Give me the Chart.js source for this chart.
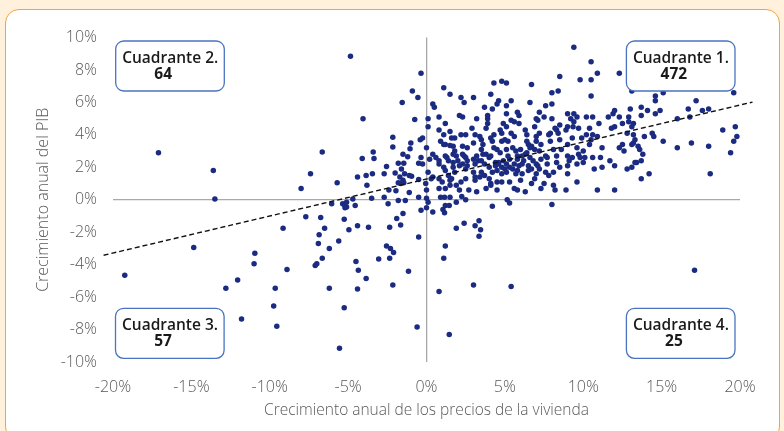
<!DOCTYPE html>
<html>
<head>
<meta charset="utf-8">
<script src="https://cdn.jsdelivr.net/npm/chart.js@4/dist/chart.umd.min.js"></script>
<style>
  html, body { margin: 0; padding: 0; background: #FFF1DB; }
  #frame { position: absolute; left: 5px; top: 9px; width: 773px; height: 430px;
           border: 1px solid #F4A340; border-radius: 14px; background: #FFFFFF; }
  #c { position: absolute; left: 0; top: 0; }
</style>
</head>
<body>
<div id="frame"></div>
<canvas id="c" width="784" height="431"></canvas>
<script>
// x = crecimiento anual de los precios de la vivienda (%), y = crecimiento anual del PIB (%)
const quadrant1Points = [
 [9.4,9.4],[8.5,7.6],[9.8,7.4],[4.3,7.2],[4.8,7.3],[5.1,7.2],[6.7,7.1],[1.1,6.9],[1.5,6.5],[4.1,6.5],[8.0,6.6],[8.4,6.7],
 [2.2,6.3],[2.4,6.0],[3.0,6.3],[4.6,6.1],[4.5,5.9],[5.4,6.1],[6.6,6.0],[8.0,5.9],[0.4,5.9],[0.5,5.7],[3.7,5.7],[4.2,5.6],
 [5.1,5.8],[5.8,5.4],[7.6,5.8],[3.9,5.2],[5.1,5.3],[5.4,4.9],[5.9,5.2],[7.2,5.4],[7.5,5.1],[9.0,5.3],[9.4,5.3],[9.6,5.1],
 [10.2,5.1],[0.1,5.0],[0.8,5.1],[2.1,5.2],[2.3,5.1],[3.2,5.0],[3.9,5.0],[5.6,4.8],[7.0,5.0],[7.1,4.9],[8.0,5.0],[9.2,5.0],
 [0.1,4.5],[1.2,4.7],[3.9,4.7],[4.9,4.7],[5.9,4.7],[6.9,4.5],[8.5,4.6],[9.0,4.5],[9.4,4.8],[9.35,4.5],[0.8,4.3],[1.5,4.2],
 [2.9,4.4],[3.8,4.4],[4.7,4.3],[5.1,4.5],[6.3,4.3],[8.2,4.4],[8.3,4.3],[8.9,4.3],[9.7,4.4],[1.1,4.0],[1.8,3.8],[2.2,4.0],
 [2.5,4.0],[3.1,4.0],[3.4,3.9],[4.1,3.8],[4.3,4.0],[4.8,4.1],[5.4,4.1],[5.6,3.9],[6.4,4.0],[7.0,3.9],[7.2,4.1],[7.8,4.0],
 [7.9,4.1],[8.4,4.1],[9.3,3.8],[9.9,3.8],[10.2,4.0],[0.9,3.6],[1.1,3.4],[1.6,3.8],[1.2,3.4],[2.3,3.3],[3.0,3.5],[3.5,3.7],
 [3.6,3.4],[4.2,3.6],[4.8,3.6],[5.0,3.7],[5.2,3.6],[6.4,3.6],[7.0,3.6],[7.3,3.4],[7.9,3.6],[8.5,3.7],[9.0,3.4],[0.0,3.2],
 [1.5,3.35],[1.7,3.3],[1.8,3.0],[2.6,3.2],[3.5,3.1],[4.3,3.2],[4.5,3.1],[5.1,3.1],[5.5,3.2],[6.0,3.1],[6.5,3.4],[6.6,3.2],
 [6.7,3.3],[6.9,3.1],[8.1,3.1],[8.6,3.1],[9.6,3.2],[10.0,3.0],[0.4,2.8],[0.6,2.6],[1.2,2.7],[1.7,2.8],[1.9,2.7],[2.3,2.8],
 [3.2,2.7],[3.6,2.8],[3.8,2.8],[4.1,2.7],[4.7,2.9],[5.2,2.7],[5.7,3.0],[5.8,2.7],[6.3,2.8],[6.4,2.9],[7.2,3.0],[7.6,2.7],
 [7.7,2.6],[8.3,2.7],[9.0,2.7],[9.3,2.6],[9.7,2.8],[9.8,2.6],[10.1,2.6],[0.2,2.5],[0.8,2.4],[1.3,2.6],[1.4,2.4],[1.7,2.3],
 [2.0,2.4],[2.4,2.7],[2.5,2.6],[2.6,2.4],[3.0,2.5],[3.3,2.4],[3.5,2.4],[4.0,2.6],[4.4,2.3],[4.6,2.3],[4.9,2.4],[5.3,2.5],
 [5.8,2.5],[6.1,2.7],[6.2,2.4],[6.6,2.6],[6.8,2.4],[7.3,2.5],[7.7,2.2],[8.3,2.3],[9.1,2.4],[9.6,2.2],[10.0,2.3],[0.1,1.7],
 [0.8,2.2],[1.1,2.0],[1.7,2.0],[2.1,2.1],[2.3,2.2],[2.6,2.1],[3.1,2.2],[3.7,2.2],[4.0,2.0],[4.4,2.1],[4.6,2.2],[4.8,2.0],
 [5.1,2.2],[5.3,2.0],[5.6,2.2],[5.9,2.1],[6.1,2.2],[6.5,2.1],[7.0,2.2],[7.1,2.1],[8.5,2.0],[9.0,2.1],[0.4,1.4],[1.2,1.8],
 [1.4,1.5],[1.8,1.7],[2.5,1.9],[3.0,1.7],[3.1,1.4],[3.5,1.7],[3.7,1.5],[4.2,1.7],[4.5,1.8],[4.8,1.6],[5.0,1.9],[5.1,1.7],
 [5.5,1.9],[5.7,1.6],[5.8,1.8],[6.1,1.6],[6.5,1.8],[6.7,1.9],[7.0,1.6],[7.2,1.9],[7.6,1.7],[7.8,1.5],[8.1,1.7],[9.0,1.6],
 [0.3,1.3],[0.8,1.3],[1.0,1.1],[1.5,1.2],[1.6,1.3],[2.2,1.1],[2.5,1.3],[3.1,1.2],[3.4,1.4],[4.0,1.3],[4.1,1.0],[4.5,1.1],
 [4.8,1.1],[5.3,1.1],[6.0,1.2],[6.7,1.0],[6.9,1.3],[7.5,1.0],[8.1,0.9],[9.6,1.1],[0.0,0.6],[0.8,0.7],[1.2,0.7],[1.5,0.9],
 [1.9,0.9],[2.1,0.6],[2.7,0.6],[3.2,0.5],[3.8,0.7],[4.1,0.9],[4.5,0.6],[5.6,0.7],[5.8,0.6],[6.3,0.5],[7.3,0.7],[8.2,0.6],
 [8.9,0.6],[0.0,0.1],[0.9,0.15],[1.15,0.15],[1.5,0.15],[2.25,0.2],[2.5,0.0],[5.15,0.0],
 [10.5,8.5],[10.9,7.8],[10.5,7.4],[12.3,7.8],[10.5,6.4],[13.1,6.7],[15.1,6.6],[14.6,6.4],[14.6,6.1],[19.6,6.6],[17.2,6.1],
 [12.0,5.5],[13.0,5.6],[13.7,5.7],[14.1,5.5],[14.6,5.3],[14.9,5.5],[16.7,5.6],[17.6,5.5],[18.0,5.6],[11.6,5.1],[11.9,5.3],
 [12.3,5.1],[10.6,5.1],[12.9,5.1],[13.7,5.2],[13.2,4.7],[16.0,5.0],[16.8,5.1],[10.4,4.4],[11.0,4.7],[11.8,4.4],[12.0,4.5],
 [12.5,4.7],[12.9,4.8],[10.6,4.0],[10.9,3.9],[10.5,3.7],[13.1,4.5],[13.2,4.0],[14.4,4.1],[14.5,3.9],[13.9,3.9],[12.8,4.1],
 [18.9,4.3],[19.7,4.5],[19.8,3.9],[19.6,3.6],[15.1,3.6],[16.0,3.2],[16.9,3.5],[18.0,3.3],[19.4,2.9],[11.2,3.2],[10.4,3.4],
 [12.5,3.4],[12.3,3.2],[13.1,3.4],[13.2,3.5],[13.3,3.7],[13.5,3.3],[13.6,3.1],[12.6,3.0],[13.8,2.8],[10.6,2.6],[11.1,2.6],
 [11.7,2.4],[12.0,2.1],[10.7,1.9],[11.2,2.0],[12.8,1.9],[13.1,2.0],[13.3,2.3],[13.4,2.3],[13.7,2.4],[14.2,1.6],[13.7,1.3],
 [18.1,1.6],[10.9,0.6],[12.0,0.6]
];
const quadrant2Points = [
 [-17.1,2.9],[-13.6,1.8],[-13.5,0.05],
 [-4.85,8.85],[-0.35,7.8],[-0.9,6.7],[-0.55,6.3],[-1.55,6.0],[-4.05,5.0],[-0.75,4.95],[-2.15,3.85],[-0.25,3.8],[-0.4,3.7],
 [-1.0,3.5],[-2.15,3.25],[-1.05,3.15],[-6.65,2.95],[-3.4,2.95],[-1.5,2.8],[-1.2,2.65],[-0.35,2.6],[-4.1,2.55],[-3.35,2.55],
 [-2.55,2.05],[-1.8,2.25],[-1.45,2.25],[-0.5,2.25],[-0.25,2.2],[-1.6,1.9],[-7.4,1.6],[-4.4,1.4],[-3.85,1.5],[-3.45,1.6],
 [-2.7,1.6],[-2.0,1.65],[-1.4,1.6],[-1.7,1.4],[-1.1,1.5],[-0.95,1.45],[-1.5,1.2],[-0.5,1.25],[-1.8,1.05],[-1.65,1.0],
 [-1.45,1.05],[-5.7,1.05],[-3.8,0.9],[-8.0,0.7],[-2.4,0.6],[-1.95,0.55],[-1.1,0.45],[-0.05,1.0],
 [-0.5,0.15],[-2.7,0.15],[-3.5,0.1],[-4.7,0.05]
];
const quadrant3Points = [
 [-14.85,-2.95],[-19.25,-4.65],[-10.95,-3.3],[-11.0,-3.95],[-12.05,-4.95],[-12.8,-5.45],[-11.8,-7.35],
 [-5.1,-0.15],[-5.25,-0.3],[-5.35,-0.25],[-6.05,-0.25],[-5.2,-0.5],[-5.1,-0.45],[-4.55,-0.35],[-2.45,-0.25],[-1.8,-0.05],
 [-1.35,-0.05],[-0.35,-0.65],[-7.7,-1.05],[-6.75,-1.1],[-5.25,-1.2],[-6.5,-1.75],[-9.15,-1.75],[-6.85,-2.15],[-4.95,-1.85],
 [-4.4,-1.6],[-3.7,-1.7],[-2.35,-1.7],[-1.9,-1.15],[-1.5,-0.85],[-1.65,-1.55],[-6.9,-2.7],[-5.6,-2.55],[-6.2,-3.0],
 [-2.55,-2.85],[-2.3,-3.0],[-2.1,-3.25],[-0.5,-2.3],[-6.65,-3.6],[-3.05,-3.65],[-2.35,-3.6],[-4.5,-3.8],[-7.1,-4.05],
 [-7.0,-3.95],[-4.35,-4.35],[-8.9,-4.3],[-1.15,-4.4],[-3.85,-4.85],[-9.65,-5.45],[-6.2,-5.45],[-4.4,-5.5],[-2.15,-5.25],
 [-9.75,-6.55],[-5.25,-6.65],[-9.55,-7.8],[-0.6,-7.85],[-5.55,-9.15]
];
const quadrant4Points = [
 [0.1,-0.15],[1.9,-0.15],[1.2,-0.35],[1.45,-0.35],[0.0,-0.5],[0.4,-0.75],[1.05,-0.6],[1.15,-0.8],[4.2,-0.4],[5.3,-0.2],
 [8.0,-0.3],[1.9,-1.75],[2.4,-1.45],[3.1,-1.6],[3.35,-1.3],[3.45,-1.85],[3.35,-2.25],[1.2,-2.85],[1.1,-3.6],[3.0,-5.25],
 [5.4,-5.35],[0.8,-5.65],[1.45,-8.3],[17.1,-4.35]
];
// dashed trend line end points
const trendLine = [[-20.6,-3.42],[20.8,6.02]];
const xTicks = [-20,-15,-10,-5,0,5,10,15,20];
const yTicks = [-10,-8,-6,-4,-2,0,2,4,6,8,10];
const quadrantNames = ['Cuadrante 1.','Cuadrante 2.','Cuadrante 3.','Cuadrante 4.'];
const quadrantCounts = ['472','64','57','25'];

const toXY = a => a.map(p => ({x: p[0], y: p[1]}));
const allPoints = [].concat(toXY(quadrant1Points), toXY(quadrant2Points), toXY(quadrant3Points), toXY(quadrant4Points));

const FONT = "'Open Sans', 'Noto Sans', sans-serif";

const quadrantBoxes = {
  id: 'quadrantBoxes',
  afterDatasetsDraw(chart) {
    const ctx = chart.ctx, a = chart.chartArea;
    const w = 108.6, h = 50;
    const pos = [
      [a.right - 5 - w, a.top + 3.5],
      [a.left + 2.7, a.top + 3.5],
      [a.left + 2.5, a.bottom - 3.7 - h],
      [a.right - 5 - w, a.bottom - 3.7 - h]
    ];
    ctx.save();
    pos.forEach((p, i) => {
      const [x, y] = p;
      ctx.beginPath();
      ctx.roundRect(x, y, w, h, 8);
      ctx.fillStyle = '#FFFFFF';
      ctx.fill();
      ctx.lineWidth = 1.3;
      ctx.strokeStyle = '#4A74C0';
      ctx.stroke();
      ctx.fillStyle = '#1A1A1A';
      ctx.textBaseline = 'alphabetic';
      ctx.font = "600 15.5px " + FONT;
      ctx.textAlign = 'left';
      ctx.fillText(quadrantNames[i], x + 6.5, y + 21.5);
      ctx.font = "700 15.5px " + FONT;
      ctx.textAlign = 'center';
      ctx.fillText(quadrantCounts[i], x + 47.5, y + 38);
    });
    ctx.restore();
  }
};

new Chart(document.getElementById('c'), {
  type: 'scatter',
  data: {
    datasets: [
      {
        type: 'line',
        data: toXY(trendLine),
        borderColor: '#111111',
        borderWidth: 1.4,
        borderDash: [5, 3],
        pointRadius: 0,
        fill: false,
        clip: false,
        order: 0
      },
      {
        data: allPoints,
        backgroundColor: '#1C2B82',
        borderWidth: 0,
        pointRadius: 2.75,
        order: 1
      }
    ]
  },
  options: {
    responsive: false,
    animation: false,
    devicePixelRatio: 1,
    layout: { padding: { left: 0, right: 44, top: 37.5, bottom: 0 } },
    plugins: { legend: { display: false }, tooltip: { enabled: false } },
    scales: {
      x: {
        type: 'linear', min: -20, max: 20,
        afterBuildTicks: s => { s.ticks = xTicks.map(v => ({value: v})); },
        afterFit: s => { s.height = 69; },
        border: { display: false },
        grid: { drawTicks: false, lineWidth: 1.3,
                color: c => (c.tick && c.tick.value === 0) ? '#A9A9A9' : 'rgba(0,0,0,0)' },
        ticks: { padding: 15.5, color: '#595959', font: { family: FONT, size: 16, weight: 300 },
                 callback: v => v + '%' },
        title: { display: true, text: 'Crecimiento anual de los precios de la vivienda',
                 color: '#595959', font: { family: FONT, size: 15.5, weight: 300 },
                 padding: { top: 0, bottom: 11 } }
      },
      y: {
        type: 'linear', min: -10, max: 10,
        afterBuildTicks: s => { s.ticks = yTicks.map(v => ({value: v})); },
        afterFit: s => { s.width = 113; },
        border: { display: false },
        grid: { drawTicks: false, lineWidth: 1.3,
                color: c => (c.tick && c.tick.value === 0) ? '#A9A9A9' : 'rgba(0,0,0,0)' },
        ticks: { padding: 16, color: '#595959', font: { family: FONT, size: 16, weight: 300 },
                 callback: v => v + '%' },
        title: { display: true, text: 'Crecimiento anual del PIB',
                 color: '#595959', font: { family: FONT, size: 16, weight: 300 },
                 padding: { top: 34, bottom: 0 } }
      }
    }
  },
  plugins: [quadrantBoxes]
});
</script>
</body>
</html>
